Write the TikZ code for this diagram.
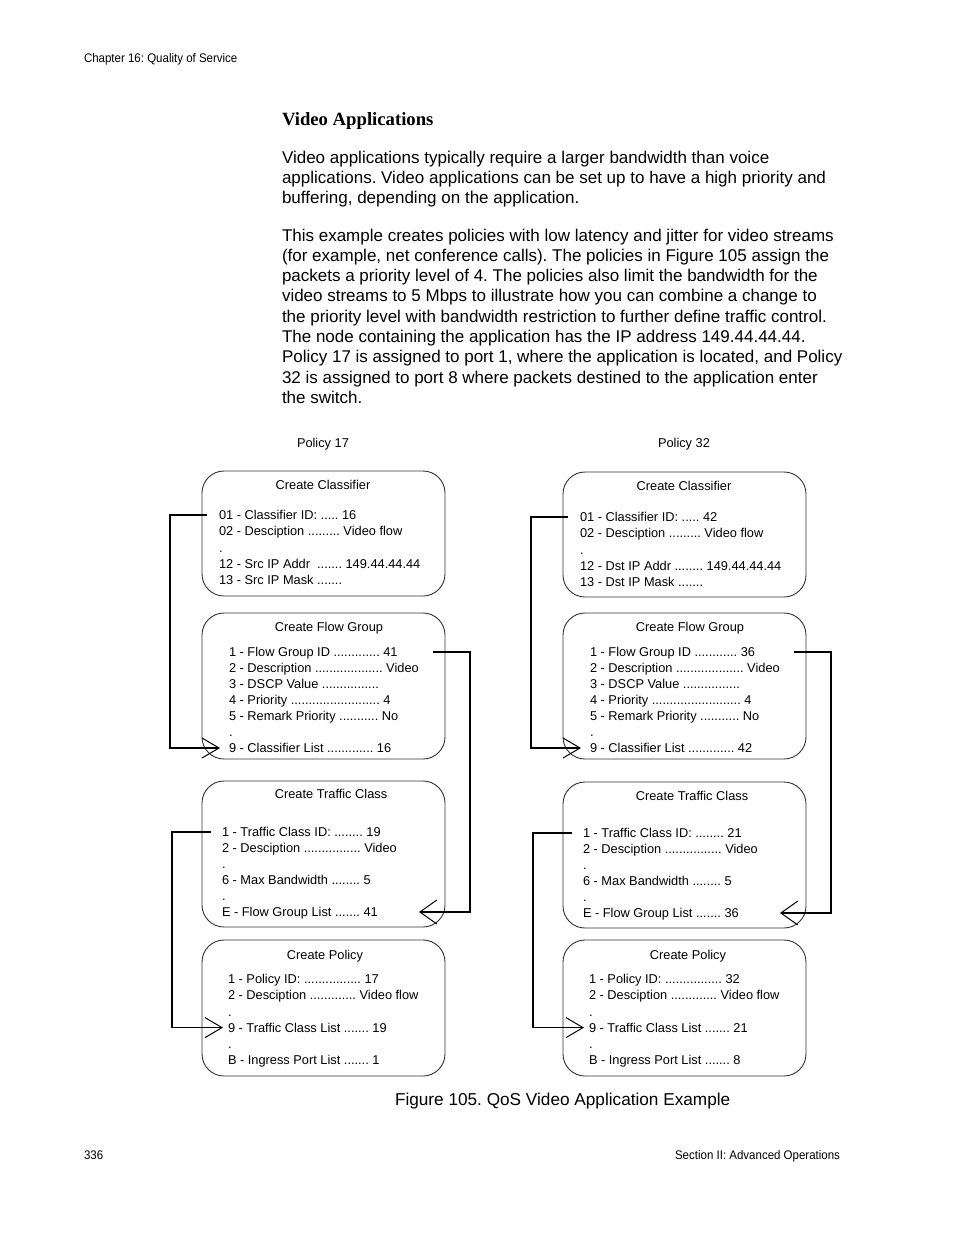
\documentclass[tikz,border=0pt]{standalone}
\usepackage{fontspec}
\setmainfont{Liberation Sans}
\newfontfamily\serifbold{Liberation Serif}
\newfontfamily\narrowfont[FakeStretch=0.92]{Liberation Sans}
\usetikzlibrary{arrows.meta,calc}
\newcommand\qosline[4]{\node[dtext] (#1) at (#2,#3) {#4};}
\frenchspacing
\begin{document}
\frenchspacing
\begin{tikzpicture}[x=1pt,y=-1pt,
  every node/.style={inner sep=0pt,outer sep=0pt},
  body/.style={anchor=base west,font=\fontsize{17}{20}\selectfont},
  hdr/.style={font=\narrowfont\fontsize{12.5}{14}\selectfont},
  dtext/.style={anchor=base west,font=\fontsize{12.8}{16}\selectfont,text height=9.2pt,text depth=0pt},
  dtitle/.style={anchor=base,font=\fontsize{12.8}{16}\selectfont},
  qbox/.style={draw=black!80,line width=0.9pt,rounded corners=22pt,minimum width=243pt,anchor=north west},
  conn/.style={draw=black,line width=1.4pt},
  tipa/.style={-{Straight Barb[length=17pt,width=20pt,line width=1pt]}},
  tipb/.style={-{Straight Barb[length=17pt,width=24pt,line width=1pt]}}]
\fill[white] (0,0) rectangle (954,1235);
\useasboundingbox (0,0) rectangle (954,1235);

% header / footer
\node[hdr,anchor=base west] (chap) at (84,62.3) {Chapter 16: Quality of Service};
\node[hdr,anchor=base west] (pnum) at (84,1159.3) {336};
\node[hdr,anchor=base east] (sect) at (840,1159.3) {Section II: Advanced Operations};

% heading and body
\node[anchor=base west,font=\serifbold\bfseries\fontsize{18.7}{22}\selectfont] (head) at (282,125) {Video Applications};
\node[body] (p1) at (282,163) {Video applications typically require a larger bandwidth than voice};
\node[body] (p2) at (282,183.3) {applications. Video applications can be set up to have a high priority and};
\node[body] (p3) at (282,203.6) {buffering, depending on the application.};
\node[body] (q1) at (282,241) {This example creates policies with low latency and jitter for video streams};
\node[body] (q2) at (282,261.3) {(for example, net conference calls). The policies in Figure 105 assign the};
\node[body] (q3) at (282,281.6) {packets a priority level of 4. The policies also limit the bandwidth for the};
\node[body] (q4) at (282,301.9) {video streams to 5 Mbps to illustrate how you can combine a change to};
\node[body] (q5) at (282,322.2) {the priority level with bandwidth restriction to further define traffic control.};
\node[body] (q6) at (282,342.5) {The node containing the application has the IP address 149.44.44.44.};
\node[body] (q7) at (282,362.8) {Policy 17 is assigned to port 1, where the application is located, and Policy};
\node[body] (q8) at (282,383.1) {32 is assigned to port 8 where packets destined to the application enter};
\node[body] (q9) at (282,403.4) {the switch.};

% column titles
\node[dtext] (pol17) at (297,447.6) {Policy 17};
\node[dtext] (pol32) at (658,447.6) {Policy 32};

% ---------------- left column ----------------
\node[qbox,minimum height=125pt] (LB1) at (202,471) {};
\node[qbox,minimum height=146pt] (LB2) at (202,613) {};
\node[qbox,minimum height=146pt] (LB3) at (202,781) {};
\node[qbox,minimum height=136pt] (LB4) at (202,940) {};

\node[dtitle] (LT1) at (323,489.6) {Create Classifier};
\qosline{L1a}{219}{519.6}{01 - Classifier ID: ..... 16}
\qosline{L1b}{219}{535.85}{02 - Desciption ......... Video flow}
\qosline{L1c}{219}{552.1}{.}
\qosline{L1d}{219}{568.35}{12 - Src IP Addr\ \ ....... 149.44.44.44}
\qosline{L1e}{219}{584.6}{13 - Src IP Mask .......}

\node[dtitle] (LT2) at (329,631.6) {Create Flow Group};
\qosline{L2a}{229}{656.6}{1 - Flow Group ID ............. 41}
\qosline{L2b}{229}{672.6}{2 - Description ................... Video}
\qosline{L2c}{229}{688.6}{3 - DSCP Value ................}
\qosline{L2d}{229}{704.6}{4 - Priority ......................... 4}
\qosline{L2e}{229}{720.6}{5 - Remark Priority ........... No}
\qosline{L2f}{229}{736.6}{.}
\qosline{L2g}{229}{752.6}{9 - Classifier List ............. 16}

\node[dtitle] (LT3) at (331,798.6) {Create Traffic Class};
\qosline{L3a}{222}{836.6}{1 - Traffic Class ID: ........ 19}
\qosline{L3b}{222}{852.6}{2 - Desciption ................ Video}
\qosline{L3c}{222}{868.6}{.}
\qosline{L3d}{222}{884.6}{6 - Max Bandwidth ........ 5}
\qosline{L3e}{222}{900.6}{.}
\qosline{L3f}{222}{916.6}{E - Flow Group List ....... 41}

\node[dtitle] (LT4) at (325,959.6) {Create Policy};
\qosline{L4a}{228}{983.6}{1 - Policy ID: ................ 17}
\qosline{L4b}{228}{999.8}{2 - Desciption ............. Video flow}
\qosline{L4c}{228}{1016}{.}
\qosline{L4d}{228}{1032.2}{9 - Traffic Class List ....... 19}
\qosline{L4e}{228}{1048.4}{.}
\qosline{L4f}{228}{1064.6}{B - Ingress Port List ....... 1}

% left connectors
\draw[conn,tipa] ([xshift=-12pt]L1a.west) -- ++(-37,0) |- ([xshift=-9pt]L2g.west);
\draw[conn,tipb] ($(LB2.east |- L2a.west)+(-12,0)$) -- ++(37,0) |- ($(LB3.east |- L3f.west)+(-26,0)$);
\draw[conn,tipa] ([xshift=-11pt]L3a.west) -- ++(-39,0) |- ([xshift=-5pt]L4d.west);

% ---------------- right column ----------------
\node[qbox,minimum height=125pt] (RB1) at (563,472) {};
\node[qbox,minimum height=146pt] (RB2) at (563,613) {};
\node[qbox,minimum height=146pt] (RB3) at (563,782) {};
\node[qbox,minimum height=136pt] (RB4) at (563,940) {};

\node[dtitle] (RT1) at (684,490.6) {Create Classifier};
\qosline{R1a}{580}{521.6}{01 - Classifier ID: ..... 42}
\qosline{R1b}{580}{537.85}{02 - Desciption ......... Video flow}
\qosline{R1c}{580}{554.1}{.}
\qosline{R1d}{580}{570.35}{12 - Dst IP Addr ........ 149.44.44.44}
\qosline{R1e}{580}{586.6}{13 - Dst IP Mask .......}

\node[dtitle] (RT2) at (690,631.6) {Create Flow Group};
\qosline{R2a}{590}{656.6}{1 - Flow Group ID ............ 36}
\qosline{R2b}{590}{672.6}{2 - Description ................... Video}
\qosline{R2c}{590}{688.6}{3 - DSCP Value ................}
\qosline{R2d}{590}{704.6}{4 - Priority ......................... 4}
\qosline{R2e}{590}{720.6}{5 - Remark Priority ........... No}
\qosline{R2f}{590}{736.6}{.}
\qosline{R2g}{590}{752.6}{9 - Classifier List ............. 42}

\node[dtitle] (RT3) at (692,800.6) {Create Traffic Class};
\qosline{R3a}{583}{837.6}{1 - Traffic Class ID: ........ 21}
\qosline{R3b}{583}{853.6}{2 - Desciption ................ Video}
\qosline{R3c}{583}{869.6}{.}
\qosline{R3d}{583}{885.6}{6 - Max Bandwidth ........ 5}
\qosline{R3e}{583}{901.6}{.}
\qosline{R3f}{583}{917.6}{E - Flow Group List ....... 36}

\node[dtitle] (RT4) at (688,959.6) {Create Policy};
\qosline{R4a}{589}{983.6}{1 - Policy ID: ................ 32}
\qosline{R4b}{589}{999.8}{2 - Desciption ............. Video flow}
\qosline{R4c}{589}{1016}{.}
\qosline{R4d}{589}{1032.2}{9 - Traffic Class List ....... 21}
\qosline{R4e}{589}{1048.4}{.}
\qosline{R4f}{589}{1064.6}{B - Ingress Port List ....... 8}

% right connectors
\draw[conn,tipa] ([xshift=-12pt]R1a.west) -- ++(-37,0) |- ([xshift=-9pt]R2g.west);
\draw[conn,tipb] ($(RB2.east |- R2a.west)+(-12,0)$) -- ++(37,0) |- ($(RB3.east |- R3f.west)+(-26,0)$);
\draw[conn,tipa] ([xshift=-11pt]R3a.west) -- ++(-39,0) |- ([xshift=-5pt]R4d.west);

% caption
\node[anchor=base west,font=\fontsize{17.2}{20}\selectfont] (cap) at (395,1105.8) {Figure 105. QoS Video Application Example};
\end{tikzpicture}
\end{document}
